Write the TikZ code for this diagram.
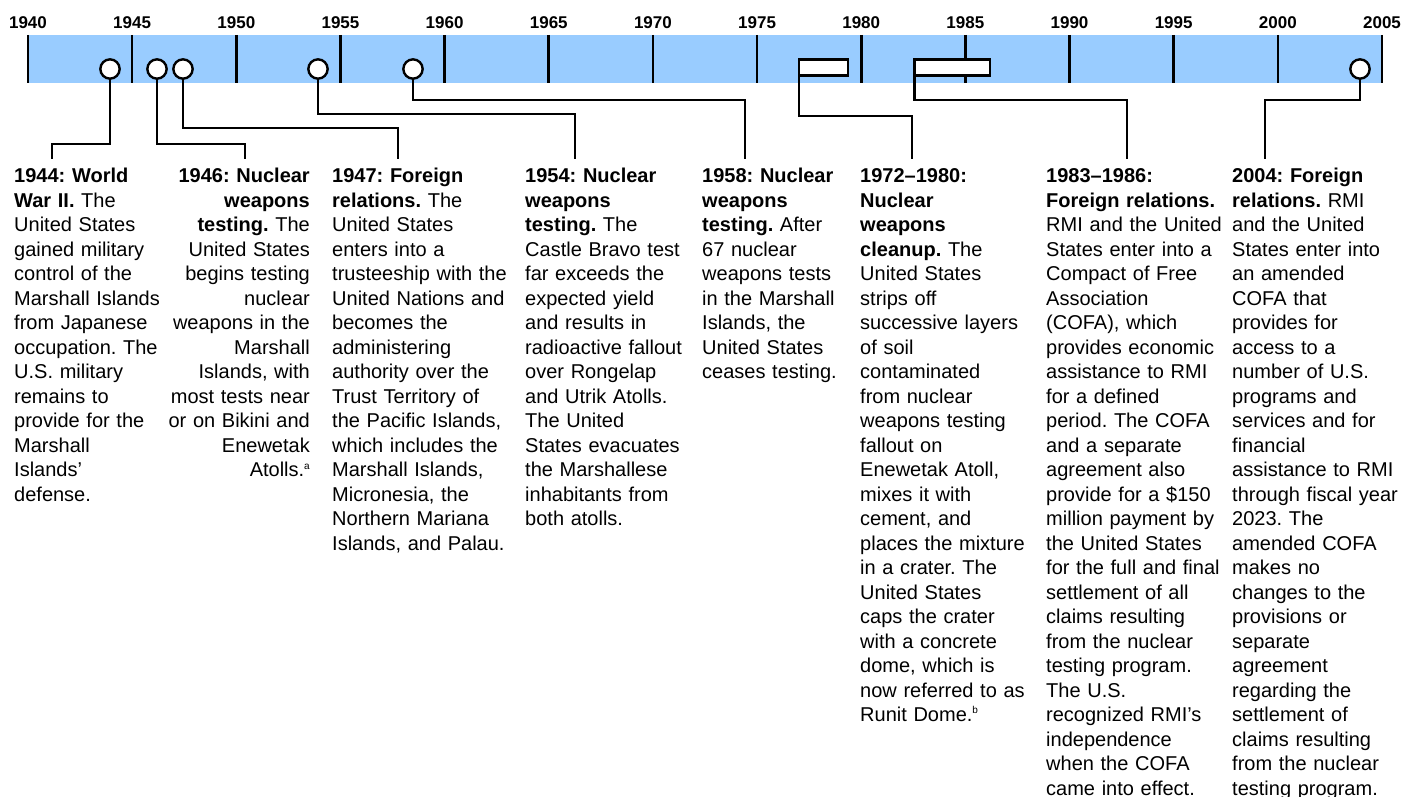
\documentclass[tikz,border=0pt]{standalone}
\usepackage{fontspec}
\setmainfont{Liberation Sans}
\usepackage{tikz}
\definecolor{barblue}{RGB}{153,204,255}
\newcommand{\fnmark}[1]{\raisebox{7.5pt}{\fontsize{10}{10}\selectfont #1}}
\tikzset{
	event/.style={circle,draw,fill=white,line width=2.4pt,minimum size=19.3pt,inner sep=0pt,outer sep=0pt},
	span/.style={rectangle,draw,fill=white,line width=2.4pt,inner sep=0pt,outer sep=0pt,minimum height=16pt},
	lead/.style={line width=2.6pt},
	note/.style={inner sep=0pt,text width=200pt,align=left,font=\fontsize{20}{24.5}\selectfont},
	yearlabel/.style={font=\fontsize{17}{20}\selectfont\bfseries,inner sep=0pt}
}
\frenchspacing

\begin{document}
\begin{tikzpicture}[x=1pt,y=-1pt]
		\useasboundingbox (0,0) rectangle (1403,797);
		% bar and ticks
		\fill[barblue] (28,35) rectangle (1382,83);
		\foreach \yr in {1940,1945,...,2005}{
			\pgfmathsetmacro{\xx}{28+(\yr-1940)*20.8308}
			\draw[line width=2.6pt] (\xx,35) -- (\xx,83);
			\node[yearlabel] (y\yr) at (\xx,22.5) {\yr};
		}
		% events
		\node[event] (c1944) at (110,69) {};
		\node[event] (c1946) at (157,69) {};
		\node[event] (c1947) at (183,69) {};
		\node[event] (c1954) at (318,69) {};
		\node[event] (c1958) at (413,69) {};
		\node[span,minimum width=49pt] (r1972) at (823.5,67.5) {};
		\node[span,minimum width=75.3pt] (r1983) at (952.2,67.5) {};
		\node[event] (c2004) at (1360,69) {};
		% free ends
		\coordinate (e1944) at (52,159);
		\coordinate (e1946) at (245,159);
		\coordinate (e1947) at (398,159);
		\coordinate (e1954) at (575,159);
		\coordinate (e1958) at (745,159);
		\coordinate (e1972) at (912,159);
		\coordinate (e1983) at (1127,159);
		\coordinate (e2004) at (1265,159);
		\draw[lead] (c1944.south) -- (c1944 |- 0,144) -| (e1944);
		\draw[lead] (c1946.south) -- (c1946 |- 0,144) -| (e1946);
		\draw[lead] (c1947.south) -- (c1947 |- 0,128) -| (e1947);
		\draw[lead] (c1954.south) -- (c1954 |- 0,114) -| (e1954);
		\draw[lead] (c1958.south) -- (c1958 |- 0,100) -| (e1958);
		\draw[lead] (r1972.south west) -- (r1972.south west |- 0,116) -| (e1972);
		\draw[lead] (r1983.south west) -- (r1983.south west |- 0,100) -| (e1983);
		\draw[lead] (c2004.south) -- (c2004 |- 0,100) -| (e2004);
		% texts
		\node[note,anchor=base west] (t1944) at (14,182.5) {\textbf{1944: World}\\
			\textbf{War II.} The\\ United States\\ gained military\\ control of the\\
			Marshall Islands\\ from Japanese\\ occupation. The\\ U.S. military\\
			remains to\\ provide for the\\ Marshall\\ Islands'\\ defense.};
		\node[note,anchor=base east,align=right,text width=170pt] (t1946) at (310,182.5) {\textbf{1946: Nuclear}\\
			\textbf{weapons}\\ \textbf{testing.} The\\ United States\\ begins testing\\
			nuclear\\ weapons in the\\ Marshall\\ Islands, with\\ most tests near\\
			or on Bikini and\\ Enewetak\\ Atolls.\fnmark{a}};
		\node[note,anchor=base west] (t1947) at (332,182.5) {\textbf{1947: Foreign}\\
			\textbf{relations.} The\\ United States\\ enters into a\\ trusteeship with the\\
			United Nations and\\ becomes the\\ administering\\ authority over the\\
			Trust Territory of\\ the Pacific Islands,\\ which includes the\\
			Marshall Islands,\\ Micronesia, the\\ Northern Mariana\\ Islands, and Palau.};
		\node[note,anchor=base west] (t1954) at (525,182.5) {\textbf{1954: Nuclear}\\
			\textbf{weapons}\\ \textbf{testing.} The\\ Castle Bravo test\\ far exceeds the\\
			expected yield\\ and results in\\ radioactive fallout\\ over Rongelap\\
			and Utrik Atolls.\\ The United\\ States evacuates\\ the Marshallese\\
			inhabitants from\\ both atolls.};
		\node[note,anchor=base west] (t1958) at (702,182.5) {\textbf{1958: Nuclear}\\
			\textbf{weapons}\\ \textbf{testing.} After\\ 67 nuclear\\ weapons tests\\
			in the Marshall\\ Islands, the\\ United States\\ ceases testing.};
		\node[note,anchor=base west] (t1972) at (860,182.5) {\textbf{1972--1980:}\\
			\textbf{Nuclear}\\ \textbf{weapons}\\ \textbf{cleanup.} The\\ United States\\
			strips off\\ successive layers\\ of soil\\ contaminated\\ from nuclear\\
			weapons testing\\ fallout on\\ Enewetak Atoll,\\ mixes it with\\ cement, and\\
			places the mixture\\ in a crater. The\\ United States\\ caps the crater\\
			with a concrete\\ dome, which is\\ now referred to as\\ Runit Dome.\fnmark{b}};
		\node[note,anchor=base west] (t1983) at (1046,182.5) {\textbf{1983--1986:}\\
			\textbf{Foreign relations.}\\ RMI and the United\\ States enter into a\\
			Compact of Free\\ Association\\ (COFA), which\\ provides economic\\
			assistance to RMI\\ for a defined\\ period. The COFA\\ and a separate\\
			agreement also\\ provide for a \$150\\ million payment by\\ the United States\\
			for the full and final\\ settlement of all\\ claims resulting\\ from the nuclear\\
			testing program.\\ The U.S.\\ recognized RMI's\\ independence\\
			when the COFA\\ came into effect.};
		\node[note,anchor=base west] (t2004) at (1232,182.5) {\textbf{2004: Foreign}\\
			\textbf{relations.} RMI\\ and the United\\ States enter into\\ an amended\\
			COFA that\\ provides for\\ access to a\\ number of U.S.\\ programs and\\
			services and for\\ financial\\ assistance to RMI\\ through fiscal year\\
			2023. The\\ amended COFA\\ makes no\\ changes to the\\ provisions or\\
			separate\\ agreement\\ regarding the\\ settlement of\\ claims resulting\\
			from the nuclear\\ testing program.};
\end{tikzpicture}
\end{document}
